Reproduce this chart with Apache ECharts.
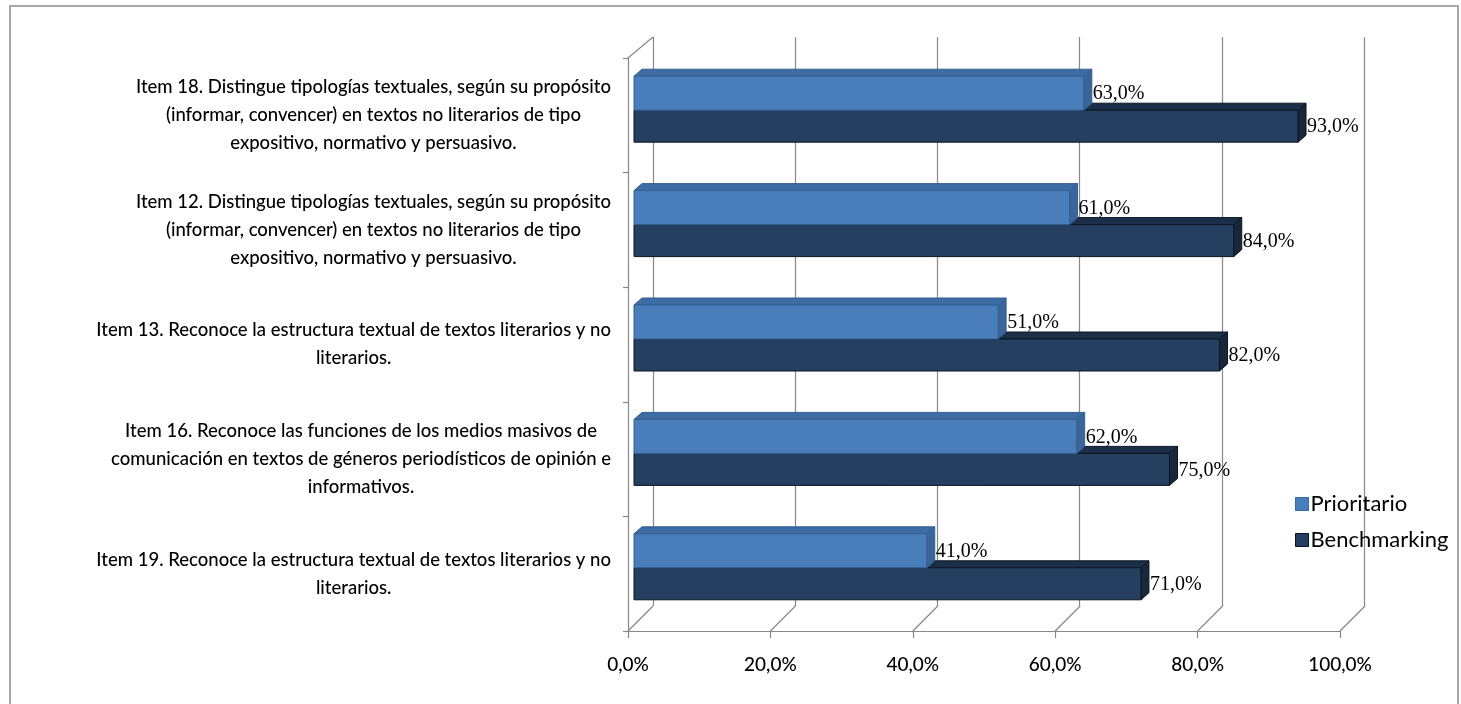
<!DOCTYPE html>
<html>
<head>
<meta charset="utf-8">
<script src="https://cdn.jsdelivr.net/npm/echarts@6/dist/echarts.min.js"></script>
<style>
  html, body { margin: 0; padding: 0; background: #fff; }
  #chart { width: 1461px; height: 704px; }
</style>
</head>
<body>
<div id="chart"></div>
<script>
// Item descriptions, top to bottom
const categories = [
  'Item 18. Distingue tipologías textuales, según su propósito\n(informar, convencer) en textos no literarios de tipo\nexpositivo, normativo y persuasivo.',
  'Item 12. Distingue tipologías textuales, según su propósito\n(informar, convencer) en textos no literarios de tipo\nexpositivo, normativo y persuasivo.',
  'Item 13. Reconoce la estructura textual de textos literarios y no\nliterarios.',
  'Item 16. Reconoce las funciones de los medios masivos de\ncomunicación en textos de géneros periodísticos de opinión e\ninformativos.',
  'Item 19. Reconoce la estructura textual de textos literarios y no\nliterarios.'
];
const seriesNames = ['Prioritario', 'Benchmarking'];
const prioritario = [63, 61, 51, 62, 41];
const benchmarking = [93, 84, 82, 75, 71];
const axisTicks = [0, 20, 40, 60, 80, 100];

const pct = v => v.toFixed(1).replace('.', ',') + '%';

// depth of the 3D bars and of the chart box
const BAR_DX = 8, BAR_DY = -7;
const WALL_DX = 25, WALL_DY = -25, WALL_TOP_DY = -21;

const palette = {
  Prioritario: { front: '#4a7ebb', top: '#3d6ba3', side: '#3a659b', edge: '#355f92' },
  Benchmarking: { front: '#243f60', top: '#1b3048', side: '#17283d', edge: '#0b1522' }
};

function barRenderer(name, upper) {
  const c = palette[name];
  return function (params, api) {
    const v = api.value(0), cat = api.value(1);
    const end = api.coord([v, cat]);
    const start = api.coord([0, cat]);
    const cy = end[1];
    const y1 = upper ? cy - 34 : cy;
    const y2 = upper ? cy : cy + 32;
    const x0 = start[0], x1 = end[0];
    return {
      type: 'group',
      children: [
        { type: 'polygon', shape: { points: [[x0, y1], [x0 + BAR_DX, y1 + BAR_DY], [x1 + BAR_DX, y1 + BAR_DY], [x1, y1]] },
          style: { fill: c.top, stroke: c.edge, lineWidth: 1 } },
        { type: 'polygon', shape: { points: [[x1, y1], [x1 + BAR_DX, y1 + BAR_DY], [x1 + BAR_DX, y2 + BAR_DY], [x1, y2]] },
          style: { fill: c.side, stroke: c.edge, lineWidth: 1 } },
        { type: 'rect', shape: { x: x0, y: y1, width: x1 - x0, height: y2 - y1 },
          style: { fill: c.front, stroke: c.edge, lineWidth: 1 } },
        { type: 'text', z2: 20, style: { text: pct(v), x: x1 + BAR_DX + 1, y: (y1 + y2) / 2 + 1,
          verticalAlign: 'middle', align: 'left', fill: '#000', font: '20px "Liberation Serif"' } }
      ]
    };
  };
}

function wallRenderer(params, api) {
  const cs = params.coordSys;
  const v = api.value(0);
  const x = api.coord([v, 0])[0];
  const bottom = cs.y + cs.height;
  const st = { stroke: '#888', lineWidth: 1.2, fill: null };
  const children = [
    { type: 'line', shape: { x1: x, y1: bottom, x2: x + WALL_DX, y2: bottom + WALL_DY }, style: st }
  ];
  if (v === 0) {
    children.push({ type: 'line', shape: { x1: x, y1: cs.y, x2: x + WALL_DX, y2: cs.y + WALL_TOP_DY }, style: st });
  }
  return { type: 'group', children };
}

const chart = echarts.init(document.getElementById('chart'), null, { renderer: 'canvas' });

chart.setOption({
  backgroundColor: '#fff',
  animation: false,
  graphic: [
    { type: 'rect', shape: { x: 10, y: 6, width: 1448, height: 710 },
      style: { fill: null, stroke: '#a8a8a8', lineWidth: 2 }, silent: true }
  ],
  legend: {
    orient: 'vertical',
    left: 1290,
    top: 488,
    itemWidth: 13,
    itemHeight: 13,
    itemGap: 14,
    icon: 'rect',
    textStyle: { fontFamily: 'Lato', fontSize: 22, color: '#000', padding: [0, 0, 0, -3] },
    data: [
      { name: 'Prioritario', itemStyle: { color: palette.Prioritario.front, borderColor: '#3a6a9e', borderWidth: 1 } },
      { name: 'Benchmarking', itemStyle: { color: palette.Benchmarking.front, borderColor: '#0b1522', borderWidth: 1 } }
    ]
  },
  grid: [
    // back wall
    { left: 653, width: 711, top: 37, height: 569 },
    // front edge of the box
    { left: 628, width: 712, top: 58, height: 573 },
    // bars
    { left: 634, width: 714, top: 53, height: 572 }
  ],
  xAxis: [
    { gridIndex: 0, type: 'value', min: 0, max: 100, interval: 20,
      axisLine: { show: false }, axisTick: { show: false }, axisLabel: { show: false },
      splitLine: { show: true, lineStyle: { color: '#888', width: 1.2 } } },
    { gridIndex: 1, type: 'value', min: 0, max: 100, interval: 20,
      axisLine: { show: true, lineStyle: { color: '#888', width: 1.2 } },
      axisTick: { show: true, length: 7, lineStyle: { color: '#888', width: 1.2 } },
      splitLine: { show: false },
      axisLabel: { formatter: pct, margin: 24, fontFamily: 'Lato', fontWeight: 500, fontSize: 19, color: '#000' } },
    { gridIndex: 2, type: 'value', min: 0, max: 100, show: false }
  ],
  yAxis: [
    { gridIndex: 0, type: 'category', data: categories, inverse: true, show: false },
    { gridIndex: 1, type: 'category', data: categories, inverse: true,
      axisLine: { show: true, lineStyle: { color: '#888', width: 1.2 } },
      axisTick: { show: true, length: 5, lineStyle: { color: '#888', width: 1.2 } },
      axisLabel: {
        margin: 17,
        formatter: v => '{t|' + v + '}',
        rich: { t: { align: 'center', fontFamily: 'Lato', fontWeight: 500, fontSize: 18.5, lineHeight: 28, color: '#000' } }
      } },
    { gridIndex: 2, type: 'category', data: categories, inverse: true, show: false }
  ],
  series: [
    { type: 'custom', name: 'wall', xAxisIndex: 1, yAxisIndex: 1, silent: true, z: 1,
      renderItem: wallRenderer, encode: { x: 0 }, data: axisTicks.map(v => [v, 0]) },
    { type: 'custom', name: seriesNames[1], xAxisIndex: 2, yAxisIndex: 2, z: 3, silent: true,
      itemStyle: { color: palette.Benchmarking.front },
      renderItem: barRenderer('Benchmarking', false), encode: { x: 0, y: 1 },
      data: benchmarking.map((v, i) => [v, i]) },
    { type: 'custom', name: seriesNames[0], xAxisIndex: 2, yAxisIndex: 2, z: 4, silent: true,
      itemStyle: { color: palette.Prioritario.front },
      renderItem: barRenderer('Prioritario', true), encode: { x: 0, y: 1 },
      data: prioritario.map((v, i) => [v, i]) }
  ]
});
</script>
</body>
</html>
